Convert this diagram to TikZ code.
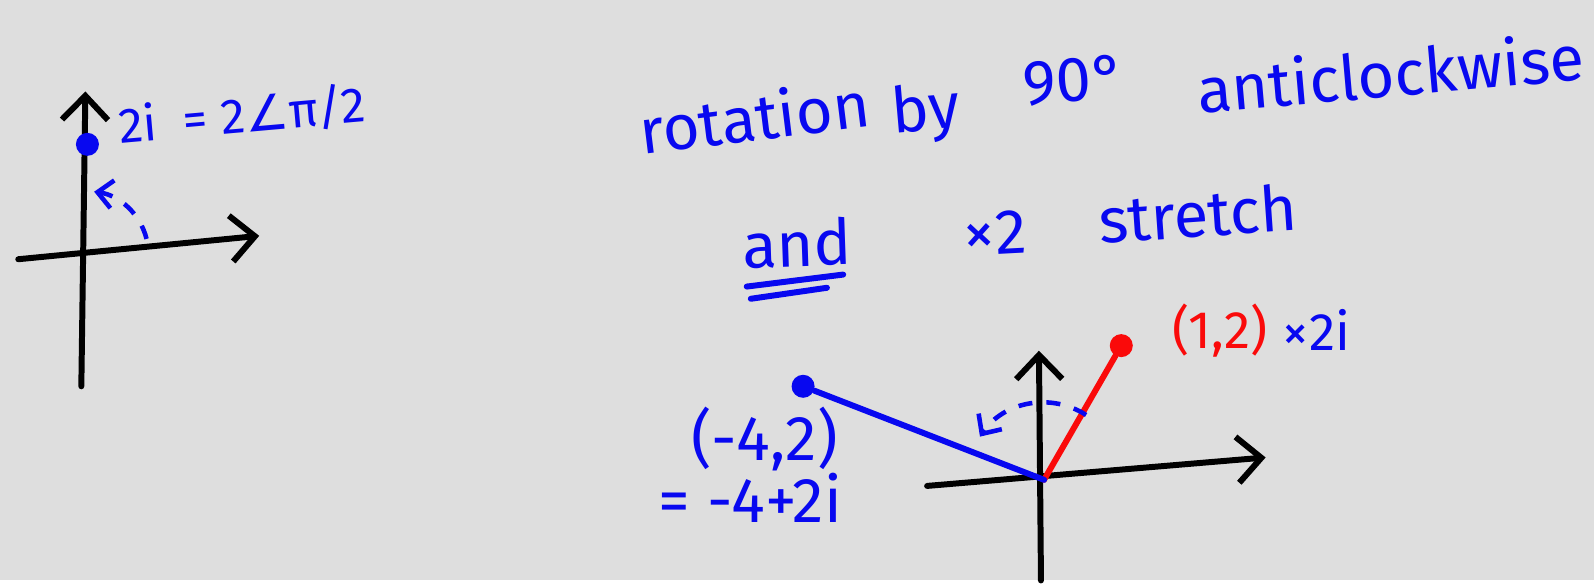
\documentclass[tikz,border=0pt]{standalone}
\usepackage{fontspec}
\setmainfont{Fira Sans}
\newfontfamily\symfont{DejaVu Sans}
\usetikzlibrary{arrows.meta,positioning}
\definecolor{boardGray}{RGB}{222,222,222}
\definecolor{boardBlue}{RGB}{8,8,240}
\definecolor{boardRed}{RGB}{250,10,10}

\begin{document}
\begin{tikzpicture}[
    x=0.010166cm,y=0.010166cm,
    axis/.style={-{Straight Barb[length=2.4mm,width=4.6mm]},line width=1.7pt,line cap=round,draw=black},
    vec/.style={line width=1.7pt,line cap=round},
    bdot/.style={circle,fill=boardBlue,inner sep=0pt,minimum size=2.3mm},
    rdot/.style={circle,fill=boardRed,inner sep=0pt,minimum size=2.3mm},
    hand/.style={text=boardBlue,inner sep=0pt,font=\fontsize{18}{20}\selectfont},
    dasharc/.style={draw=boardBlue,line width=1.3pt,dash pattern=on 4pt off 4pt,-{Straight Barb[length=1.5mm,width=2.8mm]}}
  ]
    \fill[boardGray] (0,0) rectangle (1568,571);
    % left sketch
    \coordinate (o1) at (84,321);
    \coordinate (ax1w) at (18,316);
    \coordinate (ax1e) at (255,339);
    \coordinate (ax1s) at (80,191);
    \coordinate (ax1n) at (84,481);
    \draw[axis] (ax1w) -- (ax1e);
    \draw[axis] (ax1s) -- (ax1n);
    \node[bdot] (p1) at (86,429) {};
    \node[hand,font=\fontsize{14}{16}\selectfont,anchor=base west,rotate=5] (p1lbl) at (118,430) {2i \ = 2{\symfont∠}π/2};
    \draw[dasharc] ([shift={(14:62)}]o1) arc[start angle=14,end angle=82,radius=62];

    % heading
    \node[hand,anchor=base,rotate=7] (rotlbl) at (745,433) {rotation};
    \node[hand,anchor=base,rotate=5] (bylbl) at (912,443) {by};
    \node[hand,anchor=base,rotate=4] (anglbl) at (1058,471) {90°};
    \node[hand,anchor=base,rotate=5] (anticlbl) at (1370,476) {anticlockwise};
    \node[hand,anchor=base,rotate=2] (andlbl) at (785,309) {and};
    \node[hand,anchor=base,rotate=3] (timeslbl) at (980,321) {×2};
    \node[hand,anchor=base,rotate=4] (stretchlbl) at (1180,338) {stretch};
    \draw[vec,boardBlue] ([shift={(4,-18)}]andlbl.base west) -- ([shift={(-10,-10)}]andlbl.base east);
    \draw[vec,boardBlue] ([shift={(8,-30)}]andlbl.base west) -- ([shift={(-26,-23)}]andlbl.base east);

    % right sketch
    \coordinate (o2) at (1027,99);
    \coordinate (ax2w) at (912,93);
    \coordinate (ax2e) at (1245,121);
    \coordinate (ax2s) at (1024,0);
    \coordinate (ax2n) at (1022,226);
    \draw[axis] (ax2w) -- (ax2e);
    \draw[axis] (ax2s) -- (ax2n);
    \node[rdot] (p2) at (1103,231) {};
    \node[bdot] (p3) at (790,191) {};
    \draw[vec,boardRed] (o2) -- (p2);
    \draw[vec,boardBlue] (o2) -- (p3);
    \draw[dasharc] ([shift={(57:76)}]o2) arc[start angle=57,end angle=146,radius=76];
    \node[hand,text=boardRed,font=\fontsize{15}{17}\selectfont] (p2lbl) at (1200,246) {(1,2)};
    \node[hand,font=\fontsize{15}{17}\selectfont,right=4pt of p2lbl] (mullbl) {×2i};
    \node[hand] (p3lbl) at (752,139) {(-4,2)};
    \node[hand] (p3eq) at (738,81) {= -4+2i};
  \end{tikzpicture}
\end{document}
